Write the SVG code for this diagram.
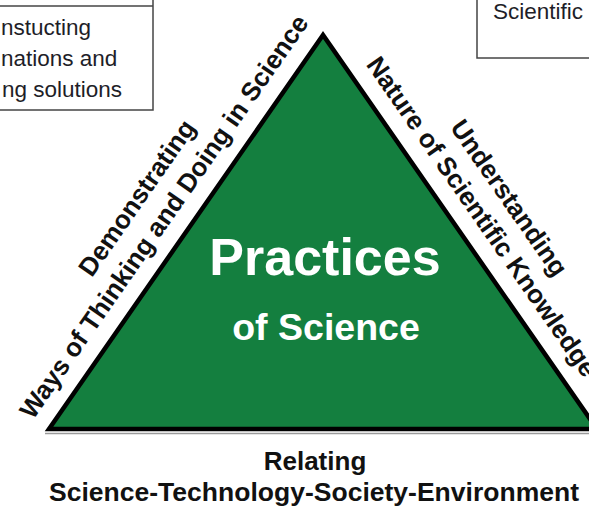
<svg xmlns="http://www.w3.org/2000/svg" width="589" height="507" viewBox="0 0 589 507">
  <style>
    .box { fill: #ffffff; stroke: #444444; stroke-width: 1.5; }
    .boxtxt { font-family: "Liberation Sans", Arial, sans-serif; font-size: 22.5px; fill: #1e1e28; }
    .lbl { font-family: "Liberation Sans", Arial, sans-serif; font-size: 26px; font-weight: bold; fill: #111111; text-anchor: middle; }
    .title { font-family: "Liberation Sans", Arial, sans-serif; font-weight: bold; fill: #ffffff; text-anchor: middle; }
  </style>
  <rect width="589" height="507" fill="#ffffff"/>

  <g id="box-left">
    <rect class="box" x="-10" y="-10" width="163" height="120"/>
    <line x1="-10" y1="6" x2="153" y2="6" stroke="#444444" stroke-width="1.5"/>
    <text class="boxtxt" x="1" y="35">nstucting</text>
    <text class="boxtxt" x="1" y="66">nations and</text>
    <text class="boxtxt" x="2" y="97">ng solutions</text>
  </g>

  <g id="box-right">
    <rect class="box" x="477" y="-10" width="130" height="68"/>
    <text class="boxtxt" x="493" y="19">Scientific</text>
  </g>

  <g id="connectors"/>

  <g id="triangle">
    <line x1="45" y1="433.5" x2="589" y2="433.5" stroke="#9a9a9a" stroke-width="1.5"/>
    <polygon points="323,35 49,429 597,429" fill="#147f3f" stroke="#000000" stroke-width="4.5" stroke-linejoin="miter"/>
    <text class="title" x="325" y="275" font-size="52">Practices</text>
    <text class="title" x="326" y="340" font-size="37.5">of Science</text>
  </g>

  <g id="label-left">
    <text class="lbl" transform="translate(171.2,221.7) rotate(-55.18)">Ways of Thinking and Doing in Science</text>
    <text class="lbl" transform="translate(144.1,202.9) rotate(-55.18)">Demonstrating</text>
  </g>

  <g id="label-right">
    <text class="lbl" transform="translate(474.8,221.7) rotate(55.18)">Nature of Scientific Knowledge</text>
    <text class="lbl" transform="translate(501.9,202.9) rotate(55.18)">Understanding</text>
  </g>

  <g id="label-bottom">
    <text class="lbl" x="315" y="470">Relating</text>
    <text class="lbl" x="314" y="501" textLength="530" lengthAdjust="spacingAndGlyphs">Science-Technology-Society-Environment</text>
  </g>
</svg>
